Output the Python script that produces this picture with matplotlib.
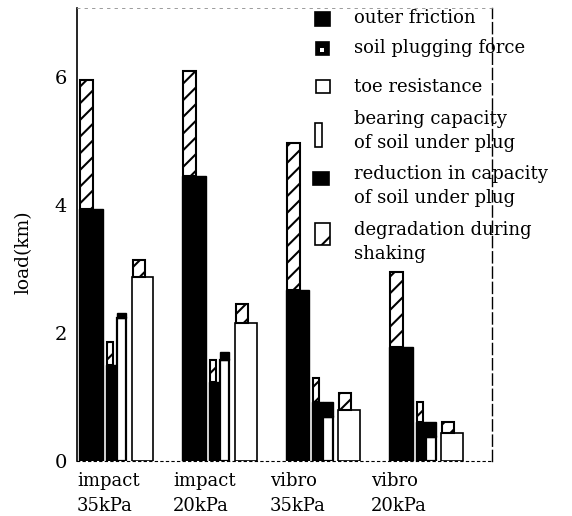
import matplotlib
matplotlib.use("Agg")
import matplotlib.pyplot as plt
from matplotlib.patches import Rectangle
import numpy as np

#groups along the x axis
groups = ["impact\n35kPa", "impact\n20kPa", "vibro\n35kPa", "vibro\n20kPa"]

#values, load(km)
outer_friction = [3.94, 4.45, 2.67, 1.78]
outer_degradation = [2.01, 1.64, 2.30, 1.17]
plugging_force = [1.50, 1.23, 0.92, 0.61]
plugging_degradation = [0.36, 0.35, 0.38, 0.31]
bearing_capacity = [2.23, 1.58, 0.69, 0.38]
capacity_reduction = [0.08, 0.12, 0.23, 0.23]
toe_resistance = [2.88, 2.16, 0.80, 0.44]
toe_degradation = [0.26, 0.29, 0.26, 0.17]

legend_labels = ["outer friction", "soil plugging force", "toe resistance",
                 "bearing capacity\nof soil under plug",
                 "reduction in capacity\nof soil under plug",
                 "degradation during\nshaking"]

W, H = 572, 516
plt.rcParams["font.family"] = ["DejaVu Serif"]
plt.rcParams["hatch.linewidth"] = 1.5

fig = plt.figure(figsize=(W / 100, H / 100), dpi=100)
#axes box in pixels: left 77, right 492, top 8, bottom 461
ax = fig.add_axes([77 / W, (H - 461) / H, (492 - 77) / W, (461 - 8) / H])

x = np.arange(len(groups))
#(offset, width) of each bar inside a group, in group units
outer_pos = (0.0, 0.23)
plug_pos = (0.26, 0.105)
bear_pos = (0.365, 0.09)
toe_pos = (0.51, 0.21)
degr_frac = 0.55

def bars(pos, heights, bottom=0, **kw):
    return ax.bar(x + pos[0], heights, pos[1], bottom=bottom, align="edge", **kw)

def degr(pos, heights, bottom):
    return ax.bar(x + pos[0] + 0.01, heights, pos[1] * degr_frac, bottom=bottom,
                  align="edge", facecolor="white", edgecolor="black", hatch="//", lw=1.5)

bars(outer_pos, outer_friction, color="black", edgecolor="black", lw=1)
degr(outer_pos, outer_degradation, outer_friction)

bars(plug_pos, plugging_force, color="black", edgecolor="black", lw=1)
degr(plug_pos, plugging_degradation, plugging_force)

bars(bear_pos, bearing_capacity, facecolor="white", edgecolor="black", lw=1.6)
bars(bear_pos, capacity_reduction, bottom=bearing_capacity, color="black", edgecolor="black", lw=1)

bars(toe_pos, toe_resistance, facecolor="white", edgecolor="black", lw=1.2)
degr(toe_pos, toe_degradation, toe_resistance)

ax.set_xlim(0.02, 4.0)
ax.set_ylim(0, 7.08)
ax.set_yticks([0, 2, 4, 6])
ax.tick_params(axis="y", length=0, pad=7, labelsize=14)
ax.set_xticks(x + np.array([-0.02, -0.09, -0.15, -0.17]))
ax.set_xticklabels(groups, ha="left", fontsize=13, linespacing=1.5)
ax.tick_params(axis="x", length=0, pad=8)
ax.set_ylabel("load(km)", fontsize=13.5)
ax.yaxis.set_label_coords(-0.108, 0.46)

ax.spines["left"].set_linewidth(1.2)
ax.spines["bottom"].set_linestyle((0, (2, 3)))
ax.spines["bottom"].set_linewidth(0.8)
ax.spines["top"].set_linestyle((0, (3, 6)))
ax.spines["top"].set_linewidth(0.6)
ax.spines["top"].set_color("0.55")
ax.spines["right"].set_linestyle((0, (8, 3)))
ax.spines["right"].set_linewidth(1)

#hand placed legend, pixel positions
def fx(px):
    return px / W

def fy(py):
    return 1 - py / H

patches = [
    dict(box=(315, 12, 15, 14), fc="black"),
    dict(box=(316, 42, 13, 13), fc="black"),
    dict(box=(316, 80, 14, 13), fc="white"),
    dict(box=(315, 123, 7, 24), fc="white"),
    dict(box=(313, 172, 16, 13), fc="black"),
    dict(box=(315, 223, 15, 22), fc="white", hatch="/"),
]
text_y = [18, 48, 87, 131, 186, 242]
for p, lab, ty in zip(patches, legend_labels, text_y):
    bx, by, bw, bh = p["box"]
    fig.add_artist(Rectangle((fx(bx), fy(by + bh)), bw / W, bh / H, transform=fig.transFigure,
                             facecolor=p["fc"], edgecolor="black", lw=1.2,
                             hatch=p.get("hatch")))
    fig.text(fx(354), fy(ty), lab, fontsize=13, va="center", ha="left", linespacing=1.45)

#small white speck in the soil plugging symbol, as in the scan
fig.add_artist(Rectangle((fx(320), fy(52)), 4 / W, 4 / H, transform=fig.transFigure,
                         facecolor="white", lw=0))

fig.savefig("out.png", dpi=100)
